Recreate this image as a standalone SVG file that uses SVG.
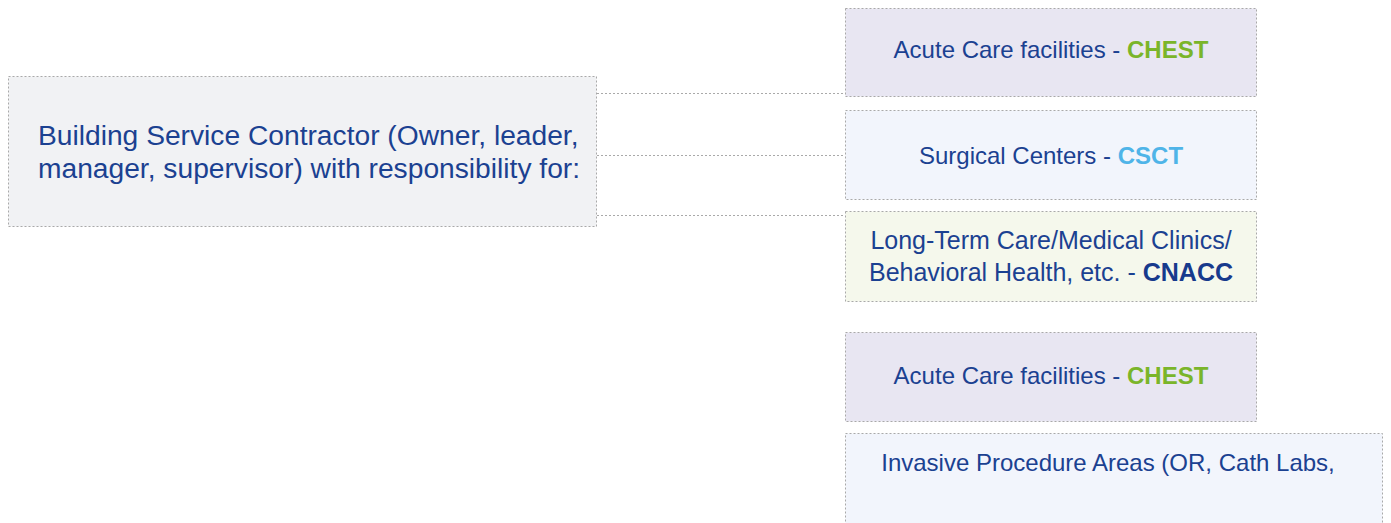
<svg xmlns="http://www.w3.org/2000/svg" width="1391" height="523" viewBox="0 0 1391 523">
<style>
.box{stroke:#a9a9a9;stroke-width:1;stroke-dasharray:2 2}
.t{font-family:"Liberation Sans",Arial,sans-serif;font-size:24px;fill:#1b4191}
.big{font-size:28.2px}
.mid{font-size:25px}
.c{stroke:#a9a9a9;stroke-width:1;stroke-dasharray:2 2;fill:none}
.b{font-weight:bold}
</style>
<rect width="1391" height="523" fill="#ffffff"/>
<g id="connectors">
<path class="c" d="M597 93.5H845"/>
<path class="c" d="M597 155.5H845"/>
<path class="c" d="M597 215.5H845"/>
</g>
<g id="contractor">
<rect class="box" x="8.5" y="76.5" width="588" height="150" fill="#f1f2f4"/>
<text class="t big" x="38" y="145">Building Service Contractor (Owner, leader,</text>
<text class="t big" x="38" y="178">manager, supervisor) with responsibility for:</text>
</g>
<g id="acute1">
<rect class="box" x="845.5" y="8.5" width="411" height="88" fill="#e8e6f2"/>
<text class="t" x="1051" y="58" text-anchor="middle">Acute Care facilities - <tspan class="b" fill="#7ab52a">CHEST</tspan></text>
</g>
<g id="surgical">
<rect class="box" x="845.5" y="110.5" width="411" height="89" fill="#f2f5fc"/>
<text class="t" x="1051" y="164" text-anchor="middle">Surgical Centers - <tspan class="b" fill="#4fb4e8">CSCT</tspan></text>
</g>
<g id="longterm">
<rect class="box" x="845.5" y="211.5" width="411" height="90" fill="#f5f8ec"/>
<text class="t mid" x="1051" y="249" text-anchor="middle">Long-Term Care/Medical Clinics/</text>
<text class="t mid" x="1051" y="281" text-anchor="middle">Behavioral Health, etc. - <tspan class="b" fill="#173a8c">CNACC</tspan></text>
</g>
<g id="acute2">
<rect class="box" x="845.5" y="332.5" width="411" height="89" fill="#e8e6f2"/>
<text class="t" x="1051" y="384" text-anchor="middle">Acute Care facilities - <tspan class="b" fill="#7ab52a">CHEST</tspan></text>
</g>
<g id="invasive">
<rect class="box" x="845.5" y="433.5" width="537" height="95" fill="#f2f5fc"/>
<text class="t" x="1108" y="471" text-anchor="middle">Invasive Procedure Areas (OR, Cath Labs,</text>
</g>
</svg>
